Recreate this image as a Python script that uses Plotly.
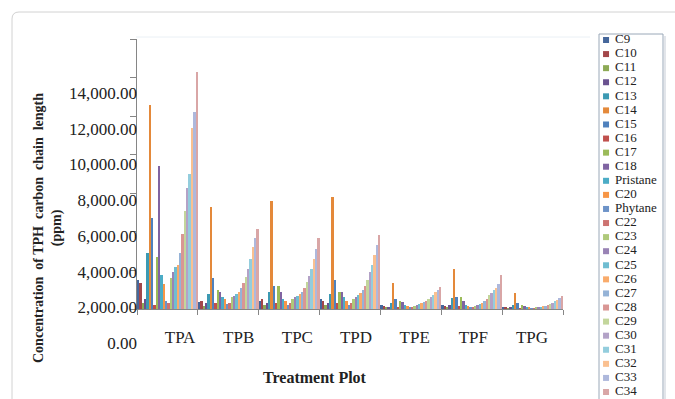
import plotly.graph_objects as go

# ---------------- data ----------------
categories = ["TPA", "TPB", "TPC", "TPD", "TPE", "TPF", "TPG"]
series_names = ["C9", "C10", "C11", "C12", "C13", "C14", "C15", "C16", "C17", "C18",
                "Pristane", "C20", "Phytane", "C22", "C23", "C24", "C25", "C26", "C27",
                "C28", "C29", "C30", "C31", "C32", "C33", "C34"]

# concentration (ppm) per series, one list per treatment plot (order = series_names)
tpa = [1500, 1350, 300, 500, 2900, 10600, 4700, 200, 2700, 7400, 1760, 1300, 400, 300,
       1600, 1900, 2200, 2300, 2900, 3900, 5100, 6300, 7000, 9400, 10200, 12300]
tpb = [350, 400, 150, 300, 800, 5300, 1600, 300, 1000, 900, 600, 500, 250, 300,
       620, 670, 780, 880, 1090, 1350, 1660, 2100, 2600, 3200, 3700, 4150]
tpc = [400, 500, 200, 300, 900, 5600, 1200, 300, 1200, 900, 500, 400, 200, 300,
       500, 600, 700, 800, 900, 1100, 1400, 1700, 2100, 2600, 3100, 3700]
tpd = [500, 400, 200, 300, 800, 5800, 1500, 300, 900, 900, 600, 400, 200, 300,
       500, 600, 750, 850, 1000, 1200, 1500, 1900, 2300, 2800, 3300, 3850]
tpe = [200, 150, 100, 100, 300, 1350, 500, 100, 400, 350, 200, 150, 100, 100,
       150, 200, 250, 300, 350, 400, 500, 600, 750, 900, 1000, 1140]
tpf = [200, 150, 100, 200, 550, 2070, 600, 150, 600, 400, 200, 150, 100, 100,
       150, 200, 250, 300, 400, 500, 750, 850, 1000, 1100, 1300, 1760]
tpg = [100, 100, 50, 100, 200, 830, 300, 50, 200, 150, 100, 80, 50, 50,
       80, 100, 120, 150, 180, 200, 250, 300, 400, 450, 550, 700]

y_ticks = [0, 2000, 4000, 6000, 8000, 10000, 12000, 14000]

# ---------------- styles ----------------
series_colors = ["#45679B", "#A3474A", "#8DAA55", "#6A5290", "#3C9AB3", "#E4893A",
                 "#4F81BD", "#C0504D", "#9BBB59", "#8064A2", "#4BACC6", "#F79646",
                 "#6D93C8", "#CD7371", "#AFC97A", "#9983B5", "#6FBDD1", "#F9AB6B",
                 "#95B3D7", "#D99694", "#C3D69B", "#B3A2C7", "#93CDDD", "#FAC090",
                 "#AEB8DC", "#D9A6A6"]

W, H = 675, 399
def px(x):
    return x / W
def py(y):
    return 1 - y / H

SERIF = "Liberation Serif"
AX = "#868686"

plots = [tpa, tpb, tpc, tpd, tpe, tpf, tpg]

fig = go.Figure()
for i, name in enumerate(series_names):
    fig.add_trace(go.Bar(
        x=categories, y=[p[i] for p in plots], name=name,
        marker=dict(color=series_colors[i], line=dict(width=0)),
        showlegend=False,
    ))

# axis carrying the (displaced) value and category labels
fig.add_trace(go.Scatter(x=categories, y=[None] * len(categories), xaxis="x2", yaxis="y2",
                         mode="markers", showlegend=False, hoverinfo="skip"))

# hand-made legend (the entries are packed tighter than a plotly legend allows)
idx = list(range(len(series_names)))
fig.add_trace(go.Scatter(x=[0.11] * len(idx), y=idx, xaxis="x3", yaxis="y3", mode="markers",
                         marker=dict(symbol="square", size=6, color=series_colors),
                         cliponaxis=False, showlegend=False, hoverinfo="skip"))
fig.add_trace(go.Scatter(x=[0.25] * len(idx), y=idx, xaxis="x3", yaxis="y3", mode="text",
                         text=series_names, textposition="middle right",
                         textfont=dict(family=SERIF, size=13, color="#222"),
                         cliponaxis=False, showlegend=False, hoverinfo="skip"))

fig.update_layout(
    width=W, height=H, margin=dict(l=0, r=0, t=0, b=0),
    template="none", paper_bgcolor="white", plot_bgcolor="rgba(0,0,0,0)",
    barmode="group", bargap=0, bargroupgap=0, showlegend=False,
    font=dict(family=SERIF, size=17, color="#222"),
    xaxis=dict(domain=[px(137), px(563)], type="category", range=[-0.5, 6.5],
               categoryorder="array", categoryarray=categories, anchor="y",
               showticklabels=False, ticks="outside", tickson="boundaries", ticklen=5,
               tickcolor=AX, showline=True, linecolor=AX, linewidth=1,
               showgrid=False, zeroline=False, automargin=False),
    yaxis=dict(domain=[py(309), py(39)], range=[0, 14000], tickvals=y_ticks, anchor="x",
               showticklabels=False, ticks="outside", ticklen=6, tickcolor=AX,
               showline=True, linecolor=AX, linewidth=1,
               showgrid=False, zeroline=False, automargin=False),
    xaxis2=dict(domain=[px(150.7), px(561.3)], type="category", range=[-0.5, 6.5],
                categoryorder="array", categoryarray=categories,
                anchor="free", position=py(325), showline=False, ticks="",
                showgrid=False, zeroline=False, tickfont=dict(family=SERIF, size=17, color="#222"),
                automargin=False),
    yaxis2=dict(domain=[py(343), py(93)], range=[0, 14000], tickvals=y_ticks,
                tickformat=",.2f", anchor="free", position=px(137), showline=False,
                ticks="", showgrid=False, zeroline=False,
                tickfont=dict(family=SERIF, size=17, color="#222"), automargin=False),
    xaxis3=dict(domain=[px(599), px(663)], range=[0, 1], anchor="y3", visible=False),
    yaxis3=dict(domain=[py(392), py(40)], range=[25, 0], anchor="x3", visible=False),
    annotations=[
        dict(text="<b>Concentration  of TPH  carbon  chain  length</b><br><b>(ppm)</b>",
             textangle=-90, x=px(48), y=py(228), xref="paper", yref="paper",
             xanchor="center", yanchor="middle", showarrow=False,
             font=dict(family=SERIF, size=14, color="#222")),
        dict(text="<b>Treatment Plot</b>", x=px(315), y=py(377), xref="paper", yref="paper",
             xanchor="center", yanchor="middle", showarrow=False,
             font=dict(family=SERIF, size=16, color="#222")),
    ],
    shapes=[
        # outer rounded frame
        dict(type="path", xref="paper", yref="paper",
             path=f"M {px(12)},{py(410)} L {px(12)},{py(19)} Q {px(12)},{py(12)} {px(19)},{py(12)} L {px(690)},{py(12)}",
             line=dict(color="#D2D2D2", width=1)),
        # faint plot-area top edge
        dict(type="line", xref="paper", yref="paper", x0=px(136), x1=px(590), y0=py(37), y1=py(37),
             line=dict(color="#EAF0F5", width=1)),
        # legend box
        dict(type="rect", xref="paper", yref="paper", x0=px(599), x1=px(663), y0=py(405), y1=py(34),
             line=dict(color="#9AA8B8", width=1), fillcolor="rgba(0,0,0,0)"),
        dict(type="line", xref="paper", yref="paper", x0=px(665), x1=px(665), y0=py(405), y1=py(36),
             line=dict(color="#D8DDE3", width=1.5)),
    ],
)

fig.write_html("out.html")
